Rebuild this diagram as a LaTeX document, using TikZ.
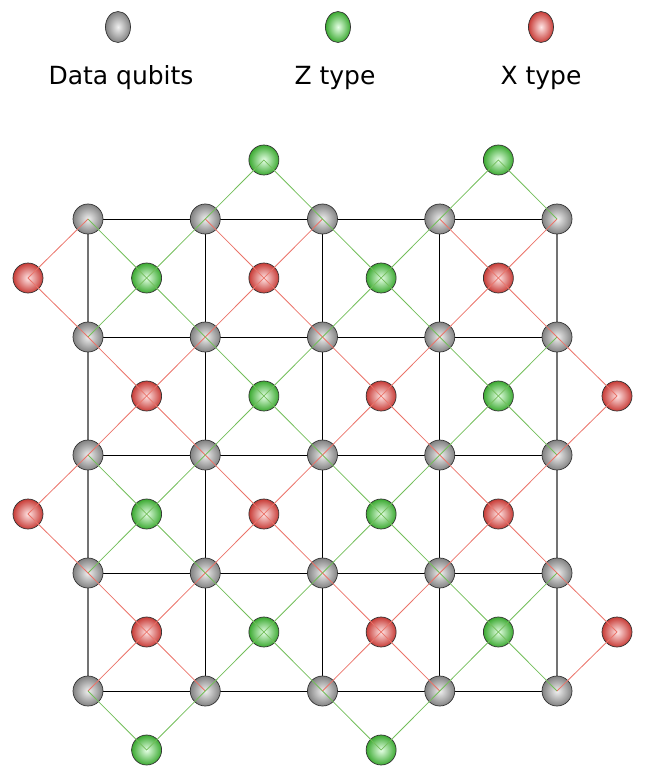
\documentclass[tikz,border=0pt]{standalone}
\usepackage{fontspec}
\setmainfont{DejaVu Sans}
\usetikzlibrary{shapes.geometric,calc}
\definecolor{gout}{RGB}{130,130,130}
\definecolor{gin}{RGB}{240,240,240}
\definecolor{zout}{RGB}{60,170,50}
\definecolor{zin}{RGB}{230,255,230}
\definecolor{xout}{RGB}{200,60,55}
\definecolor{xin}{RGB}{255,230,230}
\definecolor{zline}{RGB}{115,190,90}
\definecolor{xline}{RGB}{235,115,105}
\tikzset{
  qubit/.style={circle, minimum size=30pt, inner sep=0pt, draw=black!80, line width=0.7pt},
  dataq/.style={qubit, inner color=gin, outer color=gout},
  zq/.style={qubit, inner color=zin, outer color=zout},
  xq/.style={qubit, inner color=xin, outer color=xout},
  legshape/.style={ellipse, minimum width=25pt, minimum height=31pt},
  gridline/.style={black, line width=1pt},
  edgegrid/.style={black!55, line width=1.2pt},
  zlink/.style={zline, line width=0.8pt},
  xlink/.style={xline, line width=0.8pt},
  labeltext/.style={font=\fontsize{25}{30}\selectfont, text=black}
}
\begin{document}
\begin{tikzpicture}[x=1pt,y=-1pt]
\useasboundingbox (0,0) rectangle (645,778);
% legend
\node[dataq, legshape] (legd) at (118,27) {};
\node[zq, legshape] (legz) at (338,27) {};
\node[xq, legshape] (legx) at (541,27) {};
\node[labeltext] (txtd) at (121,78) {Data qubits};
\node[labeltext] (txtz) at (335,78) {Z type};
\node[labeltext] (txtx) at (541,78) {X type};
% coordinates of data qubits
\foreach \i in {0,...,4} {
  \foreach \j in {0,...,4} {
    \coordinate (p-\i-\j) at ({88+117.25*\i},{219+118*\j});
  }
}
% grid lines
\foreach \j in {0,...,4} {
  \draw[gridline] (p-0-\j) -- (p-4-\j);
}
\foreach \i in {1,2,3} {
  \draw[gridline] (p-\i-0) -- (p-\i-4);
}
\draw[edgegrid] (p-0-0) -- (p-0-4);
\draw[edgegrid] (p-4-0) -- (p-4-4);
% data qubits
\foreach \i in {0,...,4} {
  \foreach \j in {0,...,4} {
    \node[dataq] (d-\i-\j) at (p-\i-\j) {};
  }
}
% interior ancillas
\foreach \i in {0,...,3} {
  \foreach \j in {0,...,3} {
    \pgfmathtruncatemacro{\parity}{mod(\i+\j,2)}
    \pgfmathtruncatemacro{\ii}{\i+1}
    \pgfmathtruncatemacro{\jj}{\j+1}
    \ifnum\parity=0
      \node[zq] (a-\i-\j) at ($(p-\i-\j)!0.5!(p-\ii-\jj)$) {};
    \else
      \node[xq] (a-\i-\j) at ($(p-\i-\j)!0.5!(p-\ii-\jj)$) {};
    \fi
  }
}
% boundary ancillas
\node[zq] (top1) at ($(p-1-0)!0.5!(p-2-0)+(0,-59)$) {};
\node[zq] (top3) at ($(p-3-0)!0.5!(p-4-0)+(0,-59)$) {};
\node[zq] (bot0) at ($(p-0-4)!0.5!(p-1-4)+(0,59)$) {};
\node[zq] (bot2) at ($(p-2-4)!0.5!(p-3-4)+(0,59)$) {};
\node[xq] (lef0) at ($(p-0-0)!0.5!(p-0-1)+(-60,0)$) {};
\node[xq] (lef2) at ($(p-0-2)!0.5!(p-0-3)+(-60,0)$) {};
\node[xq] (rig1) at ($(p-4-1)!0.5!(p-4-2)+(60,0)$) {};
\node[xq] (rig3) at ($(p-4-3)!0.5!(p-4-4)+(60,0)$) {};
% links of interior ancillas
\foreach \i in {0,...,3} {
  \foreach \j in {0,...,3} {
    \pgfmathtruncatemacro{\parity}{mod(\i+\j,2)}
    \pgfmathtruncatemacro{\ii}{\i+1}
    \pgfmathtruncatemacro{\jj}{\j+1}
    \ifnum\parity=0
      \draw[zlink] (d-\i-\j.center) -- (a-\i-\j.center) -- (d-\ii-\jj.center);
      \draw[zlink] (d-\ii-\j.center) -- (a-\i-\j.center) -- (d-\i-\jj.center);
    \else
      \draw[xlink] (d-\i-\j.center) -- (a-\i-\j.center) -- (d-\ii-\jj.center);
      \draw[xlink] (d-\ii-\j.center) -- (a-\i-\j.center) -- (d-\i-\jj.center);
    \fi
  }
}
% links of boundary ancillas
\draw[zlink] (d-1-0.center) -- (top1.center) -- (d-2-0.center);
\draw[zlink] (d-3-0.center) -- (top3.center) -- (d-4-0.center);
\draw[zlink] (d-0-4.center) -- (bot0.center) -- (d-1-4.center);
\draw[zlink] (d-2-4.center) -- (bot2.center) -- (d-3-4.center);
\draw[xlink] (d-0-0.center) -- (lef0.center) -- (d-0-1.center);
\draw[xlink] (d-0-2.center) -- (lef2.center) -- (d-0-3.center);
\draw[xlink] (d-4-1.center) -- (rig1.center) -- (d-4-2.center);
\draw[xlink] (d-4-3.center) -- (rig3.center) -- (d-4-4.center);
\end{tikzpicture}
\end{document}
